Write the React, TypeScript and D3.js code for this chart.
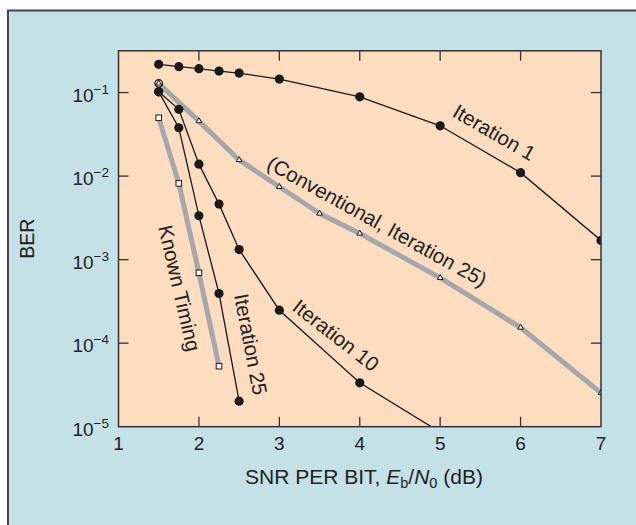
import React, { useEffect, useRef } from "react";
import * as d3 from "d3";

// ---- data ----
const snrIter1 = [1.5, 1.75, 2, 2.25, 2.5, 3, 4, 5, 6, 7];
const berIter1 = [0.218, 0.204, 0.193, 0.181, 0.171, 0.145, 0.089, 0.04, 0.011, 0.0017];

const snrIter10 = [1.5, 1.75, 2, 2.25, 2.5, 3, 4, 5];
const berIter10 = [0.102, 0.063, 0.0139, 0.00462, 0.00132, 2.48e-4, 3.35e-5, 8.6e-6];

const snrIter25 = [1.5, 1.75, 2, 2.25, 2.5];
const berIter25 = [0.102, 0.0379, 0.00335, 3.93e-4, 2.02e-5];

const snrConv = [1.5, 2, 2.5, 3, 3.5, 4, 5, 6, 7];
const berConv = [0.129, 0.0456, 0.0156, 0.00745, 0.00357, 0.00206, 6.05e-4, 1.54e-4, 2.54e-5];

const snrKnown = [1.5, 1.75, 2, 2.25];
const berKnown = [0.0499, 0.00818, 6.95e-4, 5.3e-5];

const xTicks = [1, 2, 3, 4, 5, 6, 7];
const yTickExps = [-1, -2, -3, -4, -5];

const curveLabels = [
  { text: "Iteration 1", x: 5.674, y: 0.0336, angle: 30 },
  { text: "(Conventional, Iteration 25)", x: 4.217, y: 0.00289, angle: 29 },
  { text: "Iteration 10", x: 3.706, y: 1.25e-4, angle: 38 },
  { text: "Iteration 25", x: 2.648, y: 9.7e-5, angle: 79 },
  { text: "Known Timing", x: 1.763, y: 4.56e-4, angle: 77 },
];

const W = 636;
const H = 525;
const FONT = "'Liberation Sans', Arial, Helvetica, sans-serif";

export default function App() {
  const ref = useRef<SVGSVGElement>(null);

  useEffect(() => {
    const svg = d3.select(ref.current);
    svg.selectAll("*").remove();

    const left = 118.5, right = 601, top = 50.8, bottom = 426.7;
    const x = d3.scaleLinear().domain([1, 7]).range([left, right]);
    const y = d3.scaleLog().domain([1e-5, Math.pow(10, -0.5)]).range([bottom, top]);

    // outer frame
    svg.append("rect").attr("x", 8).attr("y", 10.5).attr("width", 660).attr("height", 540)
      .attr("fill", "#c4e1e8").attr("stroke", "#454545").attr("stroke-width", 2);

    // plot area
    svg.append("rect").attr("x", left).attr("y", top).attr("width", right - left).attr("height", bottom - top)
      .attr("fill", "#fddcbf");

    const defs = svg.append("defs");
    defs.append("clipPath").attr("id", "plotclip").append("rect")
      .attr("x", left).attr("y", top).attr("width", right - left).attr("height", bottom - top);

    const g = svg.append("g").attr("clip-path", "url(#plotclip)");

    const zip = (xs: number[], ys: number[]) => xs.map((v, i) => [v, ys[i]] as [number, number]);
    const line = d3.line<[number, number]>().x(d => x(d[0])).y(d => y(d[1]));

    // gray thick curves
    const gray = "#a4a7ab";
    g.append("path").attr("d", line(zip(snrConv, berConv))).attr("fill", "none")
      .attr("stroke", gray).attr("stroke-width", 5).attr("stroke-linejoin", "round");
    g.append("path").attr("d", line(zip(snrKnown, berKnown))).attr("fill", "none")
      .attr("stroke", gray).attr("stroke-width", 5).attr("stroke-linejoin", "round");

    // black thin curves
    const blackSeries = [zip(snrIter1, berIter1), zip(snrIter10, berIter10), zip(snrIter25, berIter25)];
    blackSeries.forEach(s => {
      g.append("path").attr("d", line(s)).attr("fill", "none")
        .attr("stroke", "#1a1a1a").attr("stroke-width", 1.3);
    });

    // circle markers
    blackSeries.forEach(s => {
      g.selectAll(null).data(s).enter().append("circle")
        .attr("cx", d => x(d[0])).attr("cy", d => y(d[1])).attr("r", 4.6)
        .attr("fill", "#1a1a1a");
    });

    // triangle markers
    const tri = d3.symbol().type(d3.symbolTriangle).size(14);
    const conv = zip(snrConv, berConv);
    g.append("circle").attr("cx", x(conv[0][0])).attr("cy", y(conv[0][1])).attr("r", 3.8)
      .attr("fill", "#fddcbf").attr("stroke", "#1a1a1a").attr("stroke-width", 1.3);
    g.selectAll(null).data(conv).enter().append("path")
      .attr("d", tri).attr("transform", d => `translate(${x(d[0])},${y(d[1])})`)
      .attr("fill", "white").attr("stroke", "#1a1a1a").attr("stroke-width", 1);

    // square markers
    g.selectAll(null).data(zip(snrKnown, berKnown)).enter().append("rect")
      .attr("x", d => x(d[0]) - 2.8).attr("y", d => y(d[1]) - 2.8)
      .attr("width", 5.6).attr("height", 5.6)
      .attr("fill", "white").attr("stroke", "#1a1a1a").attr("stroke-width", 1);

    // plot border
    svg.append("rect").attr("x", left).attr("y", top).attr("width", right - left).attr("height", bottom - top)
      .attr("fill", "none").attr("stroke", "#333").attr("stroke-width", 1.5);

    // ticks (inward, all sides)
    const tl = 10;
    xTicks.slice(1, -1).forEach(t => {
      svg.append("line").attr("x1", x(t)).attr("x2", x(t)).attr("y1", bottom).attr("y2", bottom - tl)
        .attr("stroke", "#333").attr("stroke-width", 1.3);
      svg.append("line").attr("x1", x(t)).attr("x2", x(t)).attr("y1", top).attr("y2", top + tl)
        .attr("stroke", "#333").attr("stroke-width", 1.3);
    });
    yTickExps.slice(0, -1).forEach(e => {
      const v = Math.pow(10, e);
      svg.append("line").attr("x1", left).attr("x2", left + tl).attr("y1", y(v)).attr("y2", y(v))
        .attr("stroke", "#333").attr("stroke-width", 1.3);
      svg.append("line").attr("x1", right).attr("x2", right - tl).attr("y1", y(v)).attr("y2", y(v))
        .attr("stroke", "#333").attr("stroke-width", 1.3);
    });

    // x tick labels
    xTicks.forEach(t => {
      svg.append("text").attr("x", x(t)).attr("y", bottom + 23.5)
        .attr("text-anchor", "middle").attr("font-family", FONT).attr("font-size", 19)
        .attr("fill", "#222").text(String(t));
    });

    // y tick labels
    yTickExps.forEach(e => {
      const t = svg.append("text").attr("x", 109).attr("y", y(Math.pow(10, e)) + 9.3)
        .attr("text-anchor", "end").attr("font-family", FONT).attr("font-size", 19).attr("fill", "#222");
      t.append("tspan").text("10");
      t.append("tspan").attr("font-size", 13.5).attr("dy", -8).text("\u2212" + Math.abs(e));
    });

    // axis titles
    svg.append("text").attr("transform", `translate(34,${(top + bottom) / 2}) rotate(-90)`)
      .attr("text-anchor", "middle").attr("font-family", FONT).attr("font-size", 19.5).attr("fill", "#222")
      .text("BER");

    const xt = svg.append("text").attr("x", 364).attr("y", 484)
      .attr("text-anchor", "middle").attr("font-family", FONT).attr("font-size", 21).attr("fill", "#222");
    xt.append("tspan").text("SNR PER BIT, ");
    xt.append("tspan").attr("font-style", "italic").text("E");
    xt.append("tspan").attr("font-size", 14.5).attr("dy", 4).text("b");
    xt.append("tspan").attr("dy", -4).text("/");
    xt.append("tspan").attr("font-style", "italic").text("N");
    xt.append("tspan").attr("font-size", 14.5).attr("dy", 4).text("0");
    xt.append("tspan").attr("dy", -4).text(" (dB)");

    // curve labels
    curveLabels.forEach(l => {
      svg.append("text")
        .attr("transform", `translate(${x(l.x)},${y(l.y)}) rotate(${l.angle})`)
        .attr("text-anchor", "middle").attr("dominant-baseline", "central")
        .attr("font-family", FONT).attr("font-size", 20.5).attr("fill", "#222")
        .text(l.text);
    });
  }, []);

  return (
    <svg ref={ref} width={W} height={H}
      style={{ position: "absolute", left: 0, top: 0, display: "block", background: "white" }} />
  );
}
